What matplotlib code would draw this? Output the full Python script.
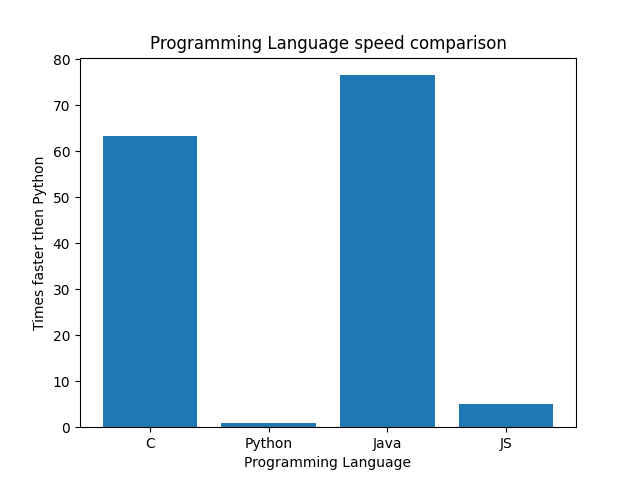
import matplotlib
matplotlib.use("Agg")
import matplotlib.pyplot as plt

languages = ["C", "Python", "Java", "JS"]
times_faster = [63.3, 0.9, 76.5, 5.0]

fig, ax = plt.subplots(figsize=(6.4, 4.8), dpi=100)
ax.bar(languages, times_faster)
ax.set_title("Programming Language speed comparison")
ax.set_xlabel("Programming Language")
ax.set_ylabel("Times faster then Python")

fig.savefig("out.png")
